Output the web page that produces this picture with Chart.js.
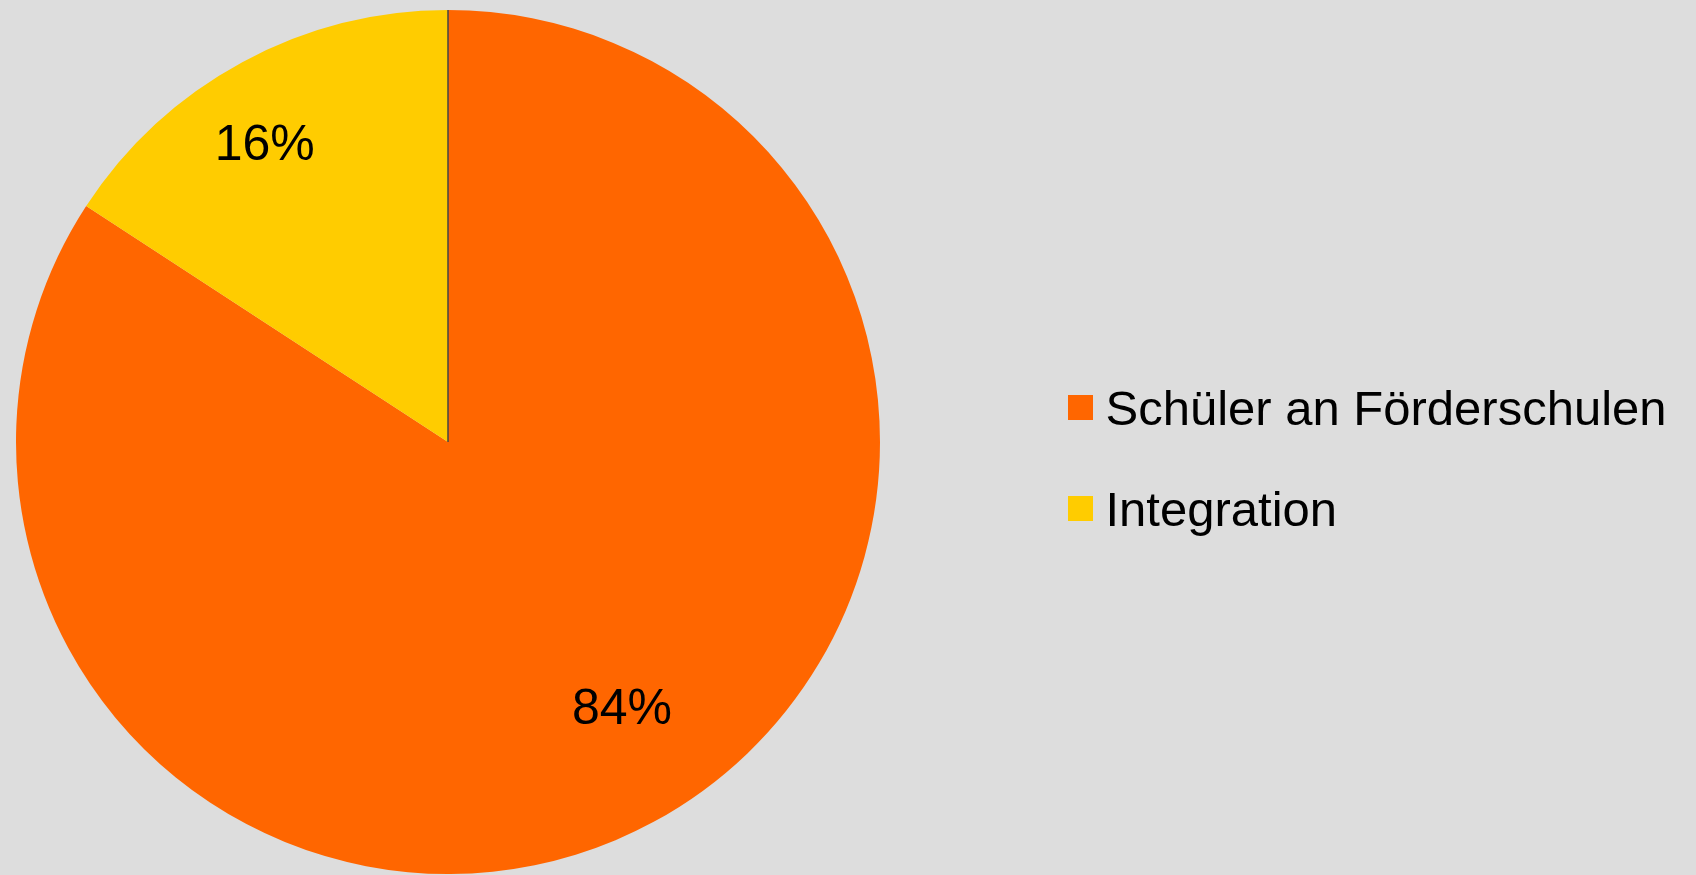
<!DOCTYPE html>
<html><head><meta charset="utf-8">
<script src="https://cdn.jsdelivr.net/npm/chart.js@4.4.0/dist/chart.umd.min.js"></script>
<style>html,body{margin:0;padding:0;background:#dddddd;overflow:hidden}#wrap{width:1696px;height:875px}</style>
</head><body><div id="wrap"><canvas id="c" width="1696" height="875"></canvas></div>
<script>
const categories = ["Schüler an Förderschulen", "Integration"];
const shares = [84.2, 15.8];
const sliceColors = ["#ff6600", "#ffcc00"];

function swatch(color) {
  const cv = document.createElement('canvas');
  cv.width = 25; cv.height = 33;
  const c = cv.getContext('2d');
  c.fillStyle = color; c.fillRect(0, 0, 25, 25);
  return cv;
}

const pieLabels = {
  id: 'pieLabels',
  afterDatasetsDraw(chart, args, opts) {
    const ctx = chart.ctx;
    const meta = chart.getDatasetMeta(0);
    const data = chart.data.datasets[0].data;
    const total = data.reduce((a, b) => a + b, 0);
    ctx.save();
    const a0 = meta.data[0].getProps(['x', 'y', 'startAngle', 'outerRadius'], true);
    ctx.strokeStyle = '#444444'; ctx.lineWidth = 1.5;
    ctx.beginPath();
    ctx.moveTo(a0.x, a0.y);
    ctx.lineTo(a0.x + Math.cos(a0.startAngle) * a0.outerRadius, a0.y + Math.sin(a0.startAngle) * a0.outerRadius);
    ctx.stroke();
    ctx.font = opts.font;
    ctx.fillStyle = '#000000';
    ctx.textAlign = 'center'; ctx.textBaseline = 'middle';
    meta.data.forEach((arc, i) => {
      const p = arc.getProps(['x', 'y', 'startAngle', 'endAngle', 'outerRadius'], true);
      const mid = (p.startAngle + p.endAngle) / 2 + opts.angleShift[i] * Math.PI / 180;
      const r = p.outerRadius * opts.radial[i];
      ctx.fillText(Math.round(data[i] / total * 100) + '%', p.x + Math.cos(mid) * r, p.y + Math.sin(mid) * r + opts.dy);
    });
    ctx.restore();
  }
};

const legendShift = {
  id: 'legendShift',
  afterLayout(chart, args, opts) {
    const lg = chart.legend;
    if (!lg) return;
    const dx = opts.left - lg.left;
    lg.left += dx; lg.right += dx;
    lg.top += opts.dy; lg.bottom += opts.dy;
  }
};

const baseGen = Chart.overrides.pie.plugins.legend.labels.generateLabels;

new Chart(document.getElementById('c'), {
  type: 'pie',
  data: {
    labels: categories,
    datasets: [{
      data: shares,
      backgroundColor: sliceColors,
      borderWidth: 0,
      hoverOffset: 0
    }]
  },
  options: {
    responsive: false,
    animation: false,
    layout: { padding: { top: 10, bottom: 1, left: 0, right: 800 } },
    plugins: {
      tooltip: { enabled: false },
      pieLabels: { font: '50px "Liberation Sans", Arial, sans-serif', radial: [0.731, 0.8155], angleShift: [-5, -2.9], dy: 5 },
      legendShift: { left: 1028, dy: 30 },
      legend: {
        position: 'chartArea',
        labels: {
          usePointStyle: true,
          boxWidth: 1,
          padding: 52,
          color: '#000000',
          font: { family: '"Liberation Sans", Arial, sans-serif', size: 49 },
          generateLabels(chart) {
            return baseGen(chart).map(it => Object.assign(it, { pointStyle: swatch(it.fillStyle) }));
          }
        }
      }
    }
  },
  plugins: [pieLabels, legendShift]
});
</script>
</body></html>
